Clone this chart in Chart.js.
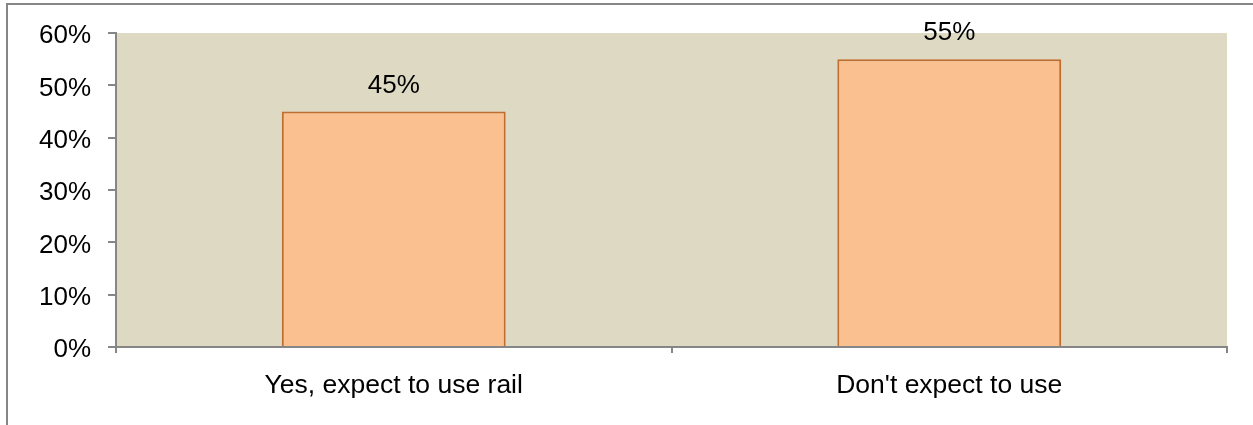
<!DOCTYPE html>
<html>
<head>
<meta charset="utf-8">
<script src="https://cdn.jsdelivr.net/npm/chart.js@4"></script>
<style>
  body { margin: 0; background: #fff; }
  #wrap { position: relative; width: 1253px; height: 425px; }
  #frame { position: absolute; left: 6px; top: 3px; right: -2px; bottom: -2px;
           border-left: 2px solid #868686; border-top: 2px solid #868686; pointer-events: none; }
</style>
</head>
<body>
<div id="wrap">
  <canvas id="myChart" width="1253" height="425"></canvas>
  <div id="frame"></div>
</div>
<script>
// chart values
const categories = ["Yes, expect to use rail", "Don't expect to use"];
const shares = [45, 55];
const yTicks = [0, 10, 20, 30, 40, 50, 60];

const ctx = document.getElementById('myChart');
const fontFamily = '"Liberation Sans", Arial, sans-serif';

// beige plot area behind the bars
const plotBg = {
  id: 'plotBg',
  beforeDraw(chart) {
    const a = chart.chartArea;
    const c = chart.ctx;
    c.save();
    c.fillStyle = '#DDD9C3';
    c.fillRect(a.left, a.top, a.right - a.left, a.bottom - a.top);
    c.restore();
  }
};

// percentage labels above bars
const valueLabels = {
  id: 'valueLabels',
  afterDatasetsDraw(chart) {
    const c = chart.ctx;
    const meta = chart.getDatasetMeta(0);
    c.save();
    c.font = '26px ' + fontFamily;
    c.fillStyle = '#000';
    c.textAlign = 'center';
    c.textBaseline = 'middle';
    meta.data.forEach((bar, i) => {
      c.fillText(shares[i] + '%', bar.x, bar.y - 26);
    });
    c.restore();
  }
};

const chart = new Chart(ctx, {
  type: 'bar',
  data: {
    labels: categories,
    datasets: [{
      data: shares,
      backgroundColor: '#FAC090',
      borderColor: '#BF6E30',
      borderWidth: 2,
      barPercentage: 0.403,
      categoryPercentage: 1.0
    }]
  },
  options: {
    responsive: false,
    animation: false,
    events: [],
    layout: { padding: { left: 0, right: 26, top: 33, bottom: 0 } },
    plugins: { legend: { display: false }, tooltip: { enabled: false } },
    scales: {
      x: {
        offset: true,
        afterFit(scale) { scale.height = 78; },
        grid: { offset: true, drawOnChartArea: false, drawTicks: true, tickLength: 6, color: '#868686', lineWidth: 2 },
        border: { color: '#868686', width: 2 },
        ticks: { color: '#000', padding: 17, font: { family: fontFamily, size: 26.5 } }
      },
      y: {
        min: 0,
        max: 60,
        afterFit(scale) { scale.width = 116; },
        afterBuildTicks(scale) { scale.ticks = yTicks.map(v => ({ value: v })); },
        grid: { drawOnChartArea: false, drawTicks: true, tickLength: 8, color: '#868686', lineWidth: 2 },
        border: { color: '#868686', width: 2 },
        ticks: {
          color: '#000',
          padding: 17,
          labelOffset: 3,
          font: { family: fontFamily, size: 26 },
          callback: v => v + '%'
        }
      }
    }
  },
  plugins: [plotBg, valueLabels]
});
</script>
</body>
</html>
